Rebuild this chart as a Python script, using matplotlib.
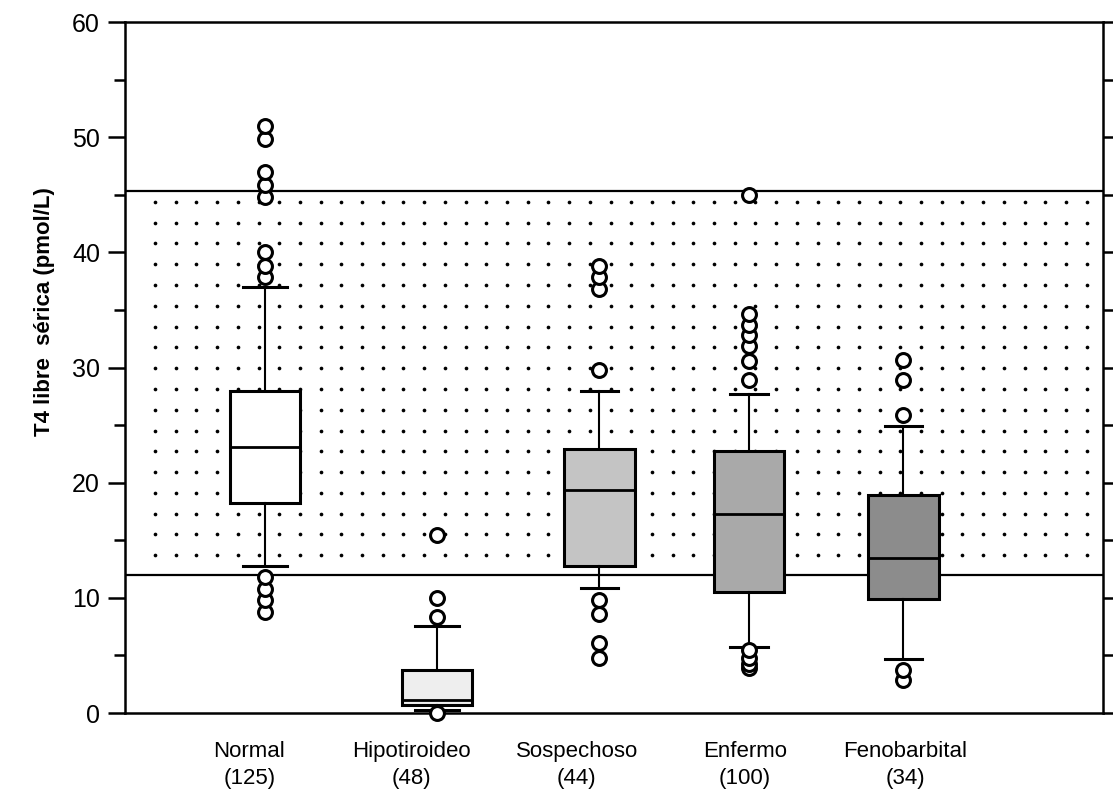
import numpy as np
import matplotlib.pyplot as plt

# datos (pmol/L)
grupos = ["Normal", "Hipotiroideo", "Sospechoso", "Enfermo", "Fenobarbital"]
n_casos = [125, 48, 44, 100, 34]
q1 = [18.2, 0.7, 12.8, 10.5, 9.9]
mediana = [23.1, 1.1, 19.4, 17.3, 13.5]
q3 = [28.0, 3.7, 22.9, 22.8, 18.9]
bigote_inf = [12.8, 0.3, 10.9, 5.7, 4.7]
bigote_sup = [37.0, 7.6, 28.0, 27.7, 24.9]
atipicos = [
    [8.8, 9.8, 10.8, 11.8, 37.9, 38.8, 40.0, 44.8, 45.9, 47.0, 49.9, 51.0],
    [0.0, 8.3, 10.0, 15.5],
    [4.8, 6.1, 8.6, 9.8, 29.8, 36.8, 37.9, 38.8],
    [3.9, 4.3, 4.8, 5.5, 28.9, 30.6, 31.9, 32.8, 33.7, 34.7, 45.0],
    [2.9, 3.7, 25.9, 28.9, 30.7],
]
rango_ref = (12.0, 45.3)
colores = ["white", "#eeeeee", "#c4c4c4", "#a9a9a9", "#8c8c8c"]

# posiciones en el eje (espaciado irregular como en la figura)
pos_caja = [1.43, 3.19, 4.85, 6.38, 7.96]
pos_texto = [1.27, 2.93, 4.62, 6.34, 7.98]

fig = plt.figure(figsize=(11.13, 7.94), dpi=100)
ax = fig.add_axes([0.1123, 0.102, 0.8787, 0.870])

# banda de referencia punteada
xs = np.arange(0.307, 10.0, 0.2117)
ys = np.arange(13.7, 45.0, 1.806)
gx, gy = np.meshgrid(xs, ys)
ax.scatter(gx.ravel(), gy.ravel(), s=7, color="black", linewidths=0, zorder=1)
for v in rango_ref:
    ax.axhline(v, color="black", lw=1.6, zorder=2)

stats = []
for i in range(len(grupos)):
    stats.append(dict(med=mediana[i], q1=q1[i], q3=q3[i], whislo=bigote_inf[i],
                      whishi=bigote_sup[i], fliers=atipicos[i], label=grupos[i]))

res = ax.bxp(stats, positions=pos_caja, widths=0.72, patch_artist=True,
             capwidths=[0.45, 0.45, 0.38, 0.38, 0.38],
             boxprops=dict(lw=2.2, edgecolor="black"),
             medianprops=dict(color="black", lw=2.0),
             whiskerprops=dict(color="black", lw=1.5),
             capprops=dict(color="black", lw=2.2),
             flierprops=dict(marker="o", markerfacecolor="white", markeredgecolor="black",
                             markersize=10, markeredgewidth=2.2))
for caja, c in zip(res["boxes"], colores):
    caja.set_facecolor(c)
    caja.set_zorder(3)
for f in res["fliers"]:
    f.set_zorder(5)
    f.set_clip_on(False)
for k in ["medians", "whiskers", "caps"]:
    for l in res[k]:
        l.set_zorder(4)

ax.set_xlim(0, 10)
ax.set_ylim(0, 60)
ax.set_yticks(np.arange(0, 61, 10))
ax.set_yticks(np.arange(5, 60, 10), minor=True)
ax.tick_params(axis="y", which="both", direction="out", length=12, width=1.8,
               labelsize=18, right=True, pad=6)
ax.tick_params(axis="y", which="minor", length=8)
ax.tick_params(axis="x", length=0)
ax.set_xticks(pos_texto)
ax.set_xticklabels([f"{g}\n({n})" for g, n in zip(grupos, n_casos)],
                   fontsize=16, family=["Liberation Sans", "DejaVu Sans"],
                   linespacing=1.4)
ax.tick_params(axis="x", pad=20)
for lab in ax.get_yticklabels():
    lab.set_family(["Liberation Sans", "DejaVu Sans"])
for s in ax.spines.values():
    s.set_linewidth(1.8)

fig.text(45 / 1113, 1 - 312 / 794, "T4 libre  sérica (pmol/L)", rotation=90,
         ha="center", va="center", fontsize=16, fontweight="bold",
         family=["Liberation Sans", "DejaVu Sans"])

fig.savefig("out.png", dpi=100)
